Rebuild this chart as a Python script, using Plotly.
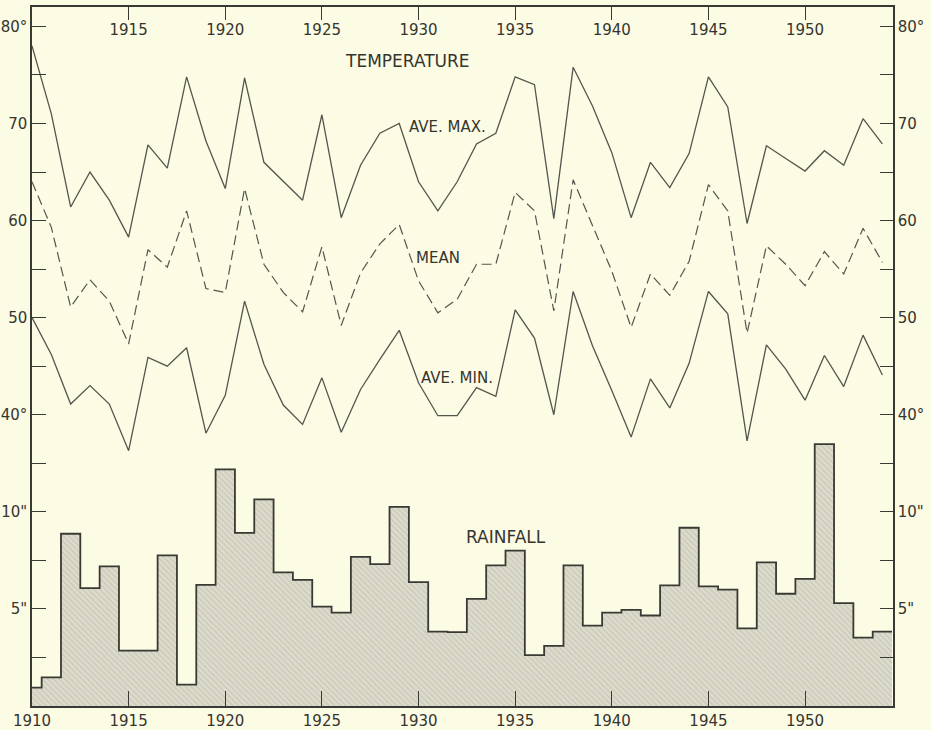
import plotly.graph_objects as go

years = list(range(1910, 1955))

ave_max = [78.0, 71.0, 61.4, 65.0, 62.1, 58.3, 67.8, 65.4, 74.8, 68.2,
           63.3, 74.7, 66.0, 64.0, 62.1, 70.9, 60.3, 65.7, 69.0, 70.0,
           64.0, 61.0, 64.0, 67.9, 69.0, 74.8, 74.0, 60.2, 75.8, 71.8,
           67.0, 60.3, 66.0, 63.4, 66.9, 74.8, 71.7, 59.7, 67.7, 66.4,
           65.1, 67.2, 65.7, 70.5, 67.9]

mean_t = [64.0, 59.3, 51.1, 53.9, 51.7, 47.3, 57.0, 55.2, 61.0, 53.0,
          52.6, 63.3, 55.5, 52.6, 50.6, 57.3, 49.2, 54.6, 57.6, 59.6,
          53.8, 50.5, 51.9, 55.5, 55.5, 62.9, 61.0, 50.7, 64.2, 59.5,
          54.8, 49.0, 54.5, 52.3, 55.8, 63.7, 61.0, 48.4, 57.4, 55.5,
          53.3, 56.8, 54.5, 59.2, 55.7]

ave_min = [50.0, 46.2, 41.1, 43.0, 41.1, 36.3, 45.9, 45.0, 46.9, 38.1,
           42.0, 51.7, 45.2, 41.0, 39.0, 43.8, 38.2, 42.6, 45.7, 48.7,
           43.3, 39.9, 39.9, 42.8, 41.9, 50.8, 47.9, 40.0, 52.7, 47.1,
           42.5, 37.7, 43.7, 40.7, 45.3, 52.7, 50.4, 37.3, 47.2, 44.7,
           41.5, 46.1, 42.9, 48.2, 44.1]

rainfall = [0.95, 1.47, 8.87, 6.07, 7.19, 2.85, 2.85, 7.76, 1.10, 6.24,
            12.19, 8.92, 10.64, 6.88, 6.50, 5.12, 4.81, 7.68, 7.31, 10.26,
            6.38, 3.83, 3.80, 5.52, 7.24, 8.00, 2.62, 3.10, 7.24, 4.14,
            4.81, 4.95, 4.66, 6.21, 9.18, 6.16, 5.99, 4.00, 7.40, 5.78,
            6.55, 13.49, 5.30, 3.52, 3.83]

bottom_years = [1910, 1915, 1920, 1925, 1930, 1935, 1940, 1945, 1950]
top_years = [1915, 1920, 1925, 1930, 1935, 1940, 1945, 1950]
temp_ticks = [35, 40, 45, 50, 55, 60, 65, 70, 75, 80]
temp_labels = ["", "40°", "", "50", "", "60", "", "70", "", "80°"]
rain_ticks = [2.5, 5, 7.5, 10, 12.5]
rain_labels = ["", '5"', "", '10"', ""]

BG = "#fcfbe4"
INK = "#35352f"
LINE = "#55554d"
FONT = "DejaVu Sans"

# step outline edges (derived from the data)
edges_x = [y - 0.5 for y in years] + [years[-1] + 0.5]
edges_y = rainfall + [rainfall[-1]]

fig = go.Figure()

fig.add_trace(go.Bar(
    x=years, y=rainfall, width=1.0, xaxis="x", yaxis="y2",
    marker=dict(color="#dddbcb", line=dict(width=0),
                pattern=dict(shape="\\", fgcolor="#aba999", bgcolor="#dddbcb",
                             size=4, solidity=0.25)),
    showlegend=False, hoverinfo="skip"))

fig.add_trace(go.Scatter(
    x=edges_x, y=edges_y, mode="lines", line_shape="hv", xaxis="x", yaxis="y4",
    line=dict(color="#3a3a34", width=1.8), showlegend=False, hoverinfo="skip"))

fig.add_trace(go.Scatter(
    x=years, y=ave_max, mode="lines", xaxis="x", yaxis="y",
    line=dict(color=LINE, width=1.3), showlegend=False))

fig.add_trace(go.Scatter(
    x=years, y=ave_min, mode="lines", xaxis="x", yaxis="y",
    line=dict(color=LINE, width=1.3), showlegend=False))

fig.add_trace(go.Scatter(
    x=years, y=mean_t, mode="lines", xaxis="x2", yaxis="y3",
    line=dict(color=LINE, width=1.2, dash="10px,5px"), showlegend=False))

xr = [1910, 1954.55]
axis_common = dict(showgrid=False, zeroline=False, showline=True,
                   linecolor="#3a3a34", linewidth=1.5, ticks="inside",
                   tickcolor="#3a3a34", tickwidth=1.3, automargin=False,
                   ticklabeloverflow="allow",
                   tickfont=dict(family=FONT, size=15, color=INK))

fig.update_layout(
    width=931, height=730,
    margin=dict(l=32, r=38, t=7, b=24),
    paper_bgcolor=BG, plot_bgcolor=BG,
    bargap=0,
    xaxis=dict(range=xr, tickmode="array", tickvals=bottom_years,
               ticklen=15, **axis_common),
    xaxis2=dict(range=xr, overlaying="x", side="top", tickmode="array",
                tickvals=top_years, ticklen=13, ticklabelposition="inside",
                ticklabelstandoff=5, **axis_common),
    yaxis=dict(range=[10, 82], tickmode="array", tickvals=temp_ticks,
               ticktext=temp_labels, ticklen=14, side="left", **axis_common),
    yaxis2=dict(range=[0, 36], overlaying="y", side="left", tickmode="array",
                tickvals=rain_ticks, ticktext=rain_labels, ticklen=14,
                **axis_common),
    yaxis3=dict(range=[10, 82], overlaying="y", side="right", tickmode="array",
                tickvals=temp_ticks, ticktext=temp_labels, ticklen=13,
                **axis_common),
    yaxis4=dict(range=[0, 36], overlaying="y", side="right", tickmode="array",
                tickvals=rain_ticks, ticktext=rain_labels, ticklen=13,
                **axis_common),
)

labels = [
    ("TEMPERATURE", 1929.45, 76.4, "y", 17),
    ("AVE. MAX.", 1931.5, 69.6, "y", 15),
    ("MEAN", 1931.0, 56.15, "y", 15),
    ("AVE. MIN.", 1932.0, 43.8, "y", 15),
    ("RAINFALL", 1934.55, 8.7, "y2", 17),
]
for text, x, y, yref, size in labels:
    fig.add_annotation(x=x, y=y, xref="x", yref=yref, text=text, showarrow=False,
                       font=dict(family=FONT, size=size, color=INK),
                       bgcolor="rgba(0,0,0,0)")

fig.write_html("out.html",
               config={"displayModeBar": False},
               post_script="document.body.style.margin='0';document.body.style.padding='0';document.documentElement.style.overflow='hidden';")
